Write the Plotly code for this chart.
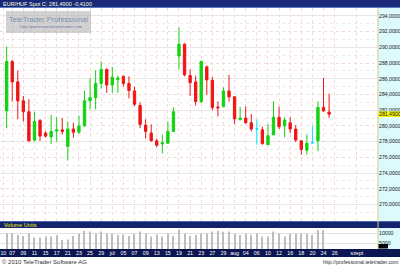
import plotly.graph_objects as go

# ---------------- data ----------------
opens = [281.9, 288.2, 285.6, 283.2, 281.8, 278.2, 280.7, 279.1, 278.6, 279.35,
         279.5, 277.4, 279.6, 279.2, 280.0, 283.2, 283.6, 285.4, 287.2, 285.2,
         285.9, 286.3, 285.4, 284.45, 282.6, 280.1, 279.1, 278.1, 277.7, 277.8,
         279.3, 288.9, 290.4, 286.4, 285.6, 283.1, 287.5, 285.8, 282.4, 282.45,
         284.45, 283.7, 280.8, 281.0, 280.4, 279.6, 279.5, 277.6, 278.85, 281.1,
         280.0, 280.4, 279.6, 278.1, 276.9, 277.85, 278.1, 282.35, 281.75]
highs = [290.1, 288.4, 287.05, 283.8, 283.4, 281.8, 280.85, 279.3, 281.4, 281.1,
         281.0, 280.55, 280.4, 281.3, 284.45, 286.1, 287.1, 288.2, 287.3, 287.5,
         286.4, 286.4, 286.3, 285.0, 283.0, 280.85, 280.2, 278.4, 278.9, 280.55,
         282.35, 292.5, 290.5, 287.2, 286.4, 288.3, 287.7, 286.2, 283.1, 284.9,
         286.5, 283.75, 282.4, 282.5, 281.5, 280.85, 279.9, 280.25, 283.1, 282.45,
         281.1, 281.1, 280.1, 278.2, 278.9, 280.0, 283.1, 286.1, 284.1]
lows = [279.7, 283.1, 280.85, 280.55, 278.0, 278.0, 278.1, 278.5, 277.7, 278.0,
        278.9, 275.6, 278.5, 279.0, 279.9, 282.1, 282.1, 284.75, 284.2, 284.2,
        284.2, 285.0, 283.5, 282.5, 279.7, 278.4, 278.0, 277.3, 276.5, 277.7,
        279.2, 287.2, 286.3, 283.8, 282.6, 282.9, 283.95, 282.0, 281.2, 282.35,
        283.1, 280.25, 280.7, 280.3, 279.3, 277.6, 277.6, 277.6, 278.85, 279.6,
        278.55, 279.1, 277.95, 276.35, 276.35, 277.75, 276.8, 281.8, 281.0]
closes = [288.2, 285.6, 283.2, 281.8, 278.1, 280.55, 278.7, 278.7, 279.3, 279.5,
          279.3, 279.6, 279.2, 280.0, 283.2, 283.6, 285.4, 287.2, 285.2, 286.2,
          286.1, 285.4, 284.5, 282.75, 280.2, 279.3, 278.1, 277.55, 277.85, 279.3,
          281.8, 290.4, 286.5, 285.5, 283.1, 288.2, 285.85, 282.35, 282.3, 284.45,
          283.7, 280.9, 281.0, 280.4, 279.6, 279.6, 277.75, 278.75, 281.1, 279.9,
          280.75, 279.6, 278.2, 277.0, 277.8, 277.85, 282.35, 281.9, 281.49]
volumes = [9800, 9800, 9000, 8500, 9800, 7800, 7800, 8200, 8200, 9000,
           6500, 6800, 8500, 9800, 11000, 10700, 9800, 10700, 9800, 9800,
           9000, 9300, 8500, 9500, 10700, 9800, 8200, 9300, 8200, 9800,
           8500, 11800, 9800, 8500, 9000,
           9800, 9800, 10700, 11000, 10700, 10700, 9500, 9000, 9800, 9000,
           9800, 8200, 8200, 10700, 9800, 8200, 9800, 9800, 9800, 9800,
           9000, 11500, 11500]
tick_pos = [-0.6, 1, 3, 5, 7, 9, 11, 13, 15, 17, 19, 21, 23, 25, 27, 29, 31, 33,
            35, 37, 39, 41, 43, 45, 47, 49, 51, 53, 55, 57, 59, 63]
tick_text = ["10", "07", "09", "11", "15", "17", "21", "23", "25", "29", "júl",
             "05", "07", "09", "13", "15", "19", "21", "23", "27", "29", "aug",
             "04", "06", "10", "12", "16", "18", "20", "24", "26", "szept"]
price_levels = [270, 272, 274, 276, 278, 280, 282, 284, 286, 288, 290, 292, 294]
price_minor = [269, 271, 273, 275, 277, 279, 281, 283, 285, 287, 289, 291, 293, 295]
price_solid = [270, 274, 278, 282, 286, 290, 294]
volume_levels = [5000, 10000]
title_text = "EUR/HUF Spot C: 281,4900 -0,4100"

# ---------------- geometry helpers ----------------
W, H = 400, 266
def py(p):
    return 1 - p / H
def px(p):
    return p / W

X_END = 378
PRICE_TOP, PRICE_BOT = 8, 221
VOL_TOP, VOL_BOT = 228, 249
DATE_BOT = 257
FONT = "Liberation Sans"

def fmt(v):
    return f"{v:.4f}".replace(".", ",")

n = len(closes)
idx = list(range(n))

def subset(cond):
    ii = [i for i in idx if cond(i)]
    return dict(x=ii, open=[opens[i] for i in ii], high=[highs[i] for i in ii],
                low=[lows[i] for i in ii], close=[closes[i] for i in ii])

fig = go.Figure()
groups = [
    (lambda i: closes[i] > opens[i], "#12d212"),
    (lambda i: closes[i] < opens[i], "#f01414"),
    (lambda i: closes[i] == opens[i], "#00e4ff"),
]
for cond, col in groups:
    fig.add_trace(go.Candlestick(
        **subset(cond), xaxis="x", yaxis="y",
        increasing=dict(line=dict(color=col, width=1), fillcolor=col),
        decreasing=dict(line=dict(color=col, width=1), fillcolor=col),
        whiskerwidth=0, hoverinfo="skip", showlegend=False))

# helper trace for the solid grid axis
fig.add_trace(go.Scatter(x=idx, y=closes, xaxis="x", yaxis="y3", mode="lines",
                         line=dict(width=0), opacity=0, hoverinfo="skip",
                         showlegend=False))

fig.add_trace(go.Bar(x=idx[:len(volumes)], y=volumes, xaxis="x2", yaxis="y2",
                     marker=dict(color="#bdbdbd", line=dict(width=0)),
                     width=0.2, hoverinfo="skip", showlegend=False))

pink = "#f3dada"
shapes = [
    # title bar
    dict(type="rect", xref="paper", yref="paper", x0=0, x1=1, y0=py(7), y1=1,
         fillcolor="#1a2a78", line=dict(width=0), layer="below"),
    dict(type="rect", xref="paper", yref="paper", x0=0, x1=1, y0=py(8), y1=py(7),
         fillcolor="#5a78c8", line=dict(width=0), layer="below"),
    # right axis panel
    dict(type="rect", xref="paper", yref="paper", x0=px(X_END), x1=1,
         y0=py(VOL_BOT), y1=py(PRICE_TOP), fillcolor="#dcf9fc",
         line=dict(width=0), layer="below"),
    # volume header
    dict(type="rect", xref="paper", yref="paper", x0=0, x1=1,
         y0=py(VOL_TOP), y1=py(PRICE_BOT), fillcolor="#14236c",
         line=dict(width=0), layer="above"),
    dict(type="rect", xref="paper", yref="paper", x0=0, x1=1,
         y0=py(PRICE_BOT + 1), y1=py(PRICE_BOT), fillcolor="#4a66b8",
         line=dict(width=0), layer="above"),
    # date bar
    dict(type="rect", xref="paper", yref="paper", x0=0, x1=1,
         y0=py(DATE_BOT), y1=py(VOL_BOT), fillcolor="#0c1652",
         line=dict(width=0), layer="below"),
    # separator
    dict(type="line", xref="paper", yref="paper", x0=px(X_END), x1=px(X_END),
         y0=py(VOL_BOT), y1=py(PRICE_TOP), line=dict(color="#cfcf86", width=1),
         layer="above"),
    # current price label
    dict(type="rect", xref="paper", yref="y", x0=px(X_END + 0.5), x1=1,
         y0=closes[-1] - 0.36, y1=closes[-1] + 0.36, fillcolor="#f4f400",
         line=dict(width=0), layer="above"),
    # volume last value box
    dict(type="rect", xref="paper", yref="paper", x0=px(X_END + 0.5), x1=px(388),
         y0=py(248.5), y1=py(244), fillcolor="#000000", line=dict(width=0),
         layer="above"),
    # watermark
    dict(type="rect", xref="paper", yref="paper", x0=px(6), x1=px(91),
         y0=py(33), y1=py(11), fillcolor="rgba(165,165,165,0.5)",
         line=dict(width=0), layer="above"),
]

annotations = [
    dict(text=title_text, x=px(1), y=py(3.6), xref="paper", yref="paper",
         xanchor="left", yanchor="middle", showarrow=False,
         font=dict(size=5.5, color="#ffffd8", family=FONT)),
    dict(text="Volume Units", x=px(2), y=py(224.5), xref="paper", yref="paper",
         xanchor="left", yanchor="middle", showarrow=False,
         font=dict(size=5.5, color="#f0f000", family=FONT)),
    dict(text="© 2010 TeleTrader Software AG", x=0, y=py(261.5), xref="paper",
         yref="paper", xanchor="left", yanchor="middle", showarrow=False,
         font=dict(size=6, color="#303030", family=FONT)),
    dict(text="http://professional.teletrader.com", x=1, y=py(262),
         xref="paper", yref="paper", xanchor="right", yanchor="middle",
         showarrow=False, font=dict(size=5.2, color="#303030", family=FONT)),
    dict(text=fmt(closes[-1]), x=px(X_END), y=closes[-1], xref="paper",
         yref="y", xanchor="left", yanchor="middle", showarrow=False,
         borderpad=0, font=dict(size=5.2, color="#202020", family=FONT)),
    dict(text="TeleTrader Professional", x=px(48.5), y=py(19.5), xref="paper",
         yref="paper", xanchor="center", yanchor="middle", showarrow=False,
         font=dict(size=7.5, color="#7c8eab", family=FONT)),
    dict(text="http://professional.teletrader.com", x=px(51), y=py(26.5),
         xref="paper", yref="paper", xanchor="center", yanchor="middle",
         showarrow=False, font=dict(size=4.3, color="#6a7a9a", family=FONT)),
]

xr = [-1.2, 66.8]
pr = [267.9, 295.0]
fig.update_layout(
    width=W, height=H, margin=dict(l=0, r=0, t=0, b=0),
    paper_bgcolor="white", plot_bgcolor="white",
    font=dict(family=FONT), showlegend=False, boxgap=0.4,
    xaxis=dict(domain=[0, px(X_END)], range=xr, anchor="y",
               rangeslider=dict(visible=False), showticklabels=False,
               tickmode="array", tickvals=tick_pos, ticks="",
               showgrid=True, gridcolor=pink, griddash="dot", gridwidth=1,
               zeroline=False, showline=False, fixedrange=True),
    yaxis=dict(domain=[py(PRICE_BOT), py(PRICE_TOP)], range=pr, anchor="x",
               side="right", tickmode="array", tickvals=price_levels,
               ticktext=[fmt(v) for v in price_levels], ticks="",
               tickfont=dict(size=5.2, color="#202020", family=FONT),
               showgrid=True, gridcolor=pink, griddash="dot", gridwidth=1,
               minor=dict(tickmode="array", tickvals=price_minor, showgrid=True,
                          gridcolor="#f6e6e6", griddash="dot", gridwidth=1,
                          ticks=""),
               zeroline=False, showline=False, fixedrange=True),
    yaxis3=dict(overlaying="y", range=pr, anchor="x", side="right",
                tickmode="array", tickvals=price_solid, showticklabels=False,
                ticks="", showgrid=True, gridcolor="#ece6e6", gridwidth=1,
                zeroline=False, showline=False, fixedrange=True),
    xaxis2=dict(domain=[0, px(X_END)], range=xr, anchor="y2",
                tickmode="array", tickvals=tick_pos, ticktext=tick_text,
                tickangle=0, ticks="",
                tickfont=dict(size=5.3, color="white", family=FONT),
                showgrid=False, zeroline=False, showline=False, fixedrange=True),
    yaxis2=dict(domain=[py(VOL_BOT), py(VOL_TOP)], range=[2000, 12500],
                anchor="x2", side="right", tickmode="array",
                tickvals=volume_levels, ticktext=[str(v) for v in volume_levels],
                ticks="", tickfont=dict(size=5.2, color="#202020", family=FONT),
                showgrid=True, gridcolor="#e2e2e2", gridwidth=1,
                zeroline=False, showline=False, fixedrange=True),
    shapes=shapes, annotations=annotations,
)

fig.write_html("out.html")
